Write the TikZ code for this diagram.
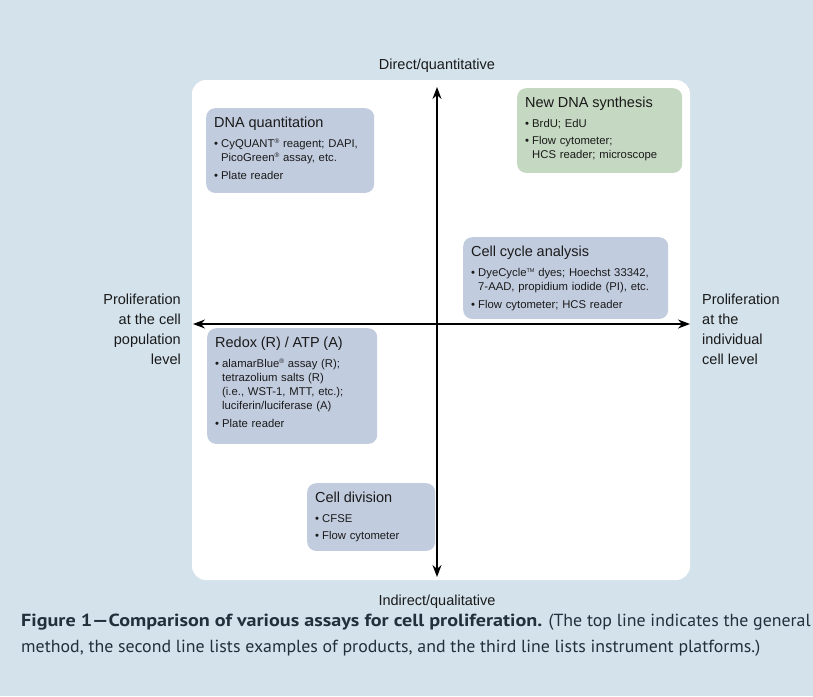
\documentclass[tikz,border=0pt]{standalone}
\usepackage{fontspec}
\setmainfont{Liberation Sans}
\newfontfamily\capfont[FakeStretch=1.02, BoldFeatures={FakeStretch=1.15}]{PT Sans}
\usetikzlibrary{positioning, arrows.meta}
\definecolor{mback}{HTML}{D3E2EB}
\definecolor{mbox}{HTML}{C2CCDF}
\definecolor{mgreen}{HTML}{C5D8C1}
\definecolor{mtext}{HTML}{1A1A1A}
\definecolor{mcap}{HTML}{22303C}
\tikzstyle{assay} = [rectangle, rounded corners=9pt, fill=mbox, anchor=north west, align=left, inner xsep=8pt, inner ysep=9pt, text=mtext, font=\fontsize{11.3}{14}\selectfont]
\tikzstyle{axislabel} = [inner sep=0pt, text=mtext, font=\fontsize{14.5}{20}\selectfont]
\tikzstyle{axis} = [line width=1.3pt, <->, >={Stealth[length=12pt,width=9pt]}]
\newcommand{\hd}[1]{{\fontsize{14.5}{16}\selectfont #1}\par\vspace{3pt}}
\newcommand{\itm}[1]{\par\vspace{3pt}\noindent\makebox[7pt][l]{\textbullet}\begin{tabular}[t]{@{}l@{}}#1\end{tabular}}
\newcommand{\reg}{\raisebox{3.8pt}{\fontsize{6.5}{6}\selectfont ®}}
\newcommand{\tmk}{\raisebox{4pt}{\fontsize{5.5}{6}\selectfont TM}}

\begin{document}
\begin{tikzpicture}[x=1pt, y=-1pt]
\useasboundingbox (0,0) rectangle (813,696);
\fill[mback] (0,0) rectangle (813,696);
\fill[white, rounded corners=14pt] (192,80) rectangle (690,580);

% axes
\coordinate (top) at (437,87);
\coordinate (bot) at (437,577);
\coordinate (lft) at (193,324);
\coordinate (rgt) at (690,324);
\draw [axis] (bot) -- (top);
\draw [axis] (lft) -- (rgt);

\node (direct) [axislabel, above = 14pt of top] {Direct/quantitative};
\node (indirect) [axislabel, below = 18pt of bot] {Indirect/qualitative};
\node (popul) [axislabel, align=right, left = 12pt of lft, yshift=-5pt] {Proliferation\\at the cell\\population\\level};
\node (indiv) [axislabel, align=left, right = 12pt of rgt, yshift=-5pt] {Proliferation\\at the\\individual\\cell level};

% assay boxes
\node (dnaq) [assay, text width=152pt] at (206,108) {\hd{DNA quantitation}
\itm{CyQUANT\reg{} reagent; DAPI,\\PicoGreen\reg{} assay, etc.}
\itm{Plate reader}};
\node (newdna) [assay, fill=mgreen, text width=149pt] at (517,88) {\hd{New DNA synthesis}
\itm{BrdU; EdU}
\itm{Flow cytometer;\\HCS reader; microscope}\par\vspace{1pt}};
\node (cellcyc) [assay, text width=189pt] at (463,237) {\hd{Cell cycle analysis}
\itm{DyeCycle\tmk{} dyes; Hoechst 33342,\\7-AAD, propidium iodide (PI), etc.}
\itm{Flow cytometer; HCS reader}\par\vspace{-3pt}};
\node (redox) [assay, text width=154pt] at (207,328) {\hd{Redox (R) / ATP (A)}
\itm{alamarBlue\reg{} assay (R);\\tetrazolium salts (R)\\(i.e., WST-1, MTT, etc.);\\luciferin/luciferase (A)}
\itm{Plate reader}\par\vspace{3pt}};
\node (celldiv) [assay, text width=112pt] at (307,483) {\hd{Cell division}
\itm{CFSE}
\itm{Flow cytometer}\par\vspace{-2pt}};

% caption
\node (capt) [anchor=north west, inner sep=0pt, align=left, text=mcap, font=\capfont\fontsize{17.5}{26}\selectfont] at (21,614) {{\bfseries Figure 1—Comparison of various assays for cell proliferation.} (The top line indicates the general\\method, the second line lists examples of products, and the third line lists instrument platforms.)};
\end{tikzpicture}
\end{document}
